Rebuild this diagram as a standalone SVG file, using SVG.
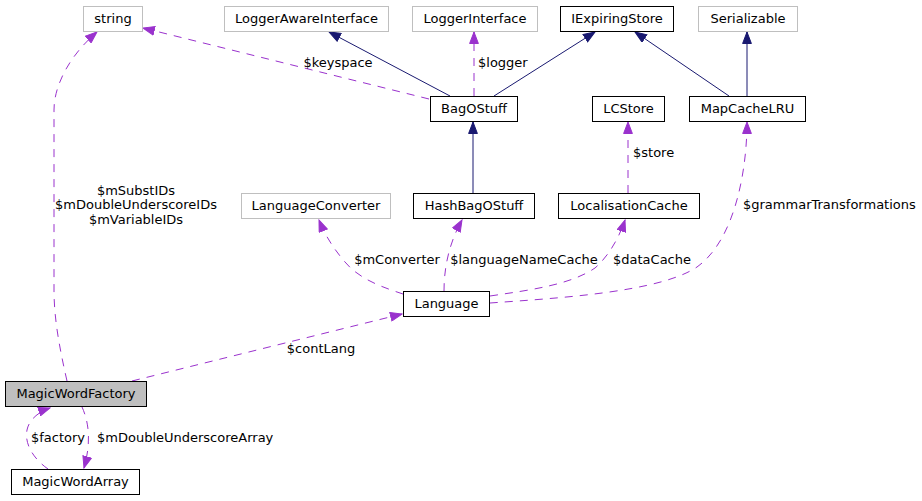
<svg xmlns="http://www.w3.org/2000/svg" width="922" height="501" viewBox="0 0 922 501">
<style>
text{font-family:"DejaVu Sans","Liberation Sans",sans-serif;font-size:13px;fill:#000}
.n{text-anchor:middle}
.doc{fill:#fff;stroke:#000;stroke-width:1}
.und{fill:#fff;stroke:#bfbfbf;stroke-width:1}
.cur{fill:#bfbfbf;stroke:#000;stroke-width:1}
.inh{fill:none;stroke:#191970;stroke-width:1;marker-end:url(#an)}
.use{fill:none;stroke:#9a32cd;stroke-width:1;stroke-dasharray:8,7;marker-end:url(#ap)}
</style>
<defs>
<marker id="an" markerUnits="userSpaceOnUse" markerWidth="13" markerHeight="10" refX="12" refY="5" orient="auto"><path d="M0.5,0.6 L12,5 L0.5,9.4 z" fill="#191970" stroke="#191970"/></marker>
<marker id="ap" markerUnits="userSpaceOnUse" markerWidth="13" markerHeight="10" refX="12" refY="5" orient="auto"><path d="M0.5,0.6 L12,5 L0.5,9.4 z" fill="#9a32cd" stroke="#9a32cd"/></marker>
</defs>
<rect width="922" height="501" fill="#fff"/>
<g id="connectors">
<path class="inh" d="M450,96 L329,32"/>
<path class="use" d="M474,96 L474,32"/>
<path class="inh" d="M494,96 L595,32"/>
<path class="inh" d="M729,96 L635,32"/>
<path class="inh" d="M747,96 L747,32"/>
<path class="use" d="M429,99 L143,28"/>
<path class="inh" d="M473,193 L473,122"/>
<path class="use" d="M628,193 L628,122"/>
<path class="use" d="M490,303 C560,298 660,292 697,267 C735,240 747,170 747,122"/>
<path class="use" d="M490,296 C530,290 570,285 595,268 C610,255 620,235 625,220"/>
<path class="use" d="M444,291 C444,270 448,245 462,220"/>
<path class="use" d="M403,294 C385,288 360,280 345,262 C333,248 325,235 319,220"/>
<path class="use" d="M132,381 L402,314"/>
<path class="use" d="M67,381 C60,350 54,320 54,290 L54,110 C54,85 70,55 97,32"/>
<path class="use" d="M82,407 C88,420 92,440 84,468"/>
<path class="use" d="M48,469 C35,460 24,445 27,430 C29,420 38,412 50,408"/>
</g>
<g id="labels">
<text x="338" y="67" class="n">$keyspace</text>
<text x="478" y="67">$logger</text>
<text x="633" y="157">$store</text>
<text x="136" y="195" class="n">$mSubstIDs</text>
<text x="136" y="209" class="n">$mDoubleUnderscoreIDs</text>
<text x="136" y="224" class="n">$mVariableIDs</text>
<text x="397" y="264" class="n">$mConverter</text>
<text x="524" y="264" class="n">$languageNameCache</text>
<text x="652" y="264" class="n">$dataCache</text>
<text x="743" y="209">$grammarTransformations</text>
<text x="321" y="353" class="n">$contLang</text>
<text x="58" y="442" class="n">$factory</text>
<text x="97" y="442">$mDoubleUnderscoreArray</text>
</g>
<g id="string"><rect class="und" x="83.5" y="6.5" width="59" height="25"/><text x="113" y="23" class="n">string</text></g>
<g id="LoggerAwareInterface"><rect class="und" x="224.5" y="6.5" width="164" height="25"/><text x="306.5" y="23" class="n">LoggerAwareInterface</text></g>
<g id="LoggerInterface"><rect class="und" x="412.5" y="6.5" width="125" height="25"/><text x="475" y="23" class="n">LoggerInterface</text></g>
<g id="IExpiringStore"><rect class="doc" x="560.5" y="6.5" width="113" height="25"/><text x="617" y="23" class="n">IExpiringStore</text></g>
<g id="Serializable"><rect class="und" x="698.5" y="6.5" width="99" height="25"/><text x="748" y="23" class="n">Serializable</text></g>
<g id="BagOStuff"><rect class="doc" x="430.5" y="96.5" width="87" height="25"/><text x="474" y="113" class="n">BagOStuff</text></g>
<g id="LCStore"><rect class="doc" x="592.5" y="96.5" width="72" height="25"/><text x="628.5" y="113" class="n">LCStore</text></g>
<g id="MapCacheLRU"><rect class="doc" x="689.5" y="96.5" width="116" height="25"/><text x="747.5" y="113" class="n">MapCacheLRU</text></g>
<g id="LanguageConverter"><rect class="und" x="241.5" y="193.5" width="149" height="25"/><text x="316" y="210" class="n">LanguageConverter</text></g>
<g id="HashBagOStuff"><rect class="doc" x="413.5" y="193.5" width="121" height="25"/><text x="474" y="210" class="n">HashBagOStuff</text></g>
<g id="LocalisationCache"><rect class="doc" x="558.5" y="193.5" width="141" height="25"/><text x="629" y="210" class="n">LocalisationCache</text></g>
<g id="Language"><rect class="doc" x="403.5" y="291.5" width="86" height="25"/><text x="446.5" y="308" class="n">Language</text></g>
<g id="MagicWordFactory"><rect class="cur" x="5.5" y="381.5" width="141" height="25"/><text x="76" y="398" class="n">MagicWordFactory</text></g>
<g id="MagicWordArray"><rect class="doc" x="11.5" y="469.5" width="128" height="25"/><text x="75.5" y="486" class="n">MagicWordArray</text></g>
</svg>
